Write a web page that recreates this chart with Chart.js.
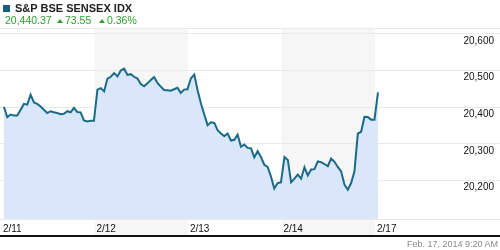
<!DOCTYPE html>
<html>
<head>
<meta charset="utf-8">
<script src="https://cdn.jsdelivr.net/npm/chart.js@4/dist/chart.umd.min.js"></script>
<style>
  html, body { margin: 0; padding: 0; background: #fff; }
  #wrap { position: relative; width: 500px; height: 250px; overflow: hidden; font-family: Arial, 'Liberation Sans', sans-serif; }
  #chart { position: absolute; left: 0; top: 0; }
  .abs { position: absolute; white-space: nowrap; }
  #swatch { left: 3px; top: 5px; width: 7px; height: 7px; background: #1a5e7e; }
  #title { left: 15px; top: 3px; font-size: 11px; line-height: 11px; font-weight: bold; color: #222; }
  .quote { top: 15px; font-size: 10.5px; line-height: 11px; color: #2f9e2f; }
  .tri { top: 19px; width: 0; height: 0; border-left: 3px solid transparent; border-right: 3px solid transparent; border-bottom: 4px solid #2f9e2f; }
  #stamp { right: 2px; top: 240px; font-size: 9px; line-height: 9px; color: #888; }
</style>
</head>
<body>
<div id="wrap">
  <canvas id="chart" width="500" height="250"></canvas>
  <div id="swatch" class="abs"></div>
  <div id="title" class="abs">S&amp;P BSE SENSEX IDX</div>
  <div class="abs quote" style="left:5px">20,440.37</div>
  <div class="abs tri" style="left:57px"></div>
  <div class="abs quote" style="left:65px">73.55</div>
  <div class="abs tri" style="left:99px"></div>
  <div class="abs quote" style="left:107px">0.36%</div>
  <div id="stamp" class="abs">Feb. 17, 2014 9:20 AM</div>
</div>
<script>
// jours de cotation (axe x = index du jour)
const dayLabels = ['2/11', '2/12', '2/13', '2/14', '2/17'];
const shadedDays = [1, 3];

// niveaux intraday, un point toutes les ~14 minutes
const feb11 = [20401, 20373, 20380, 20377, 20377, 20393, 20409, 20407, 20434, 20413,
               20409, 20402, 20393, 20384, 20389, 20386, 20384, 20381, 20382, 20389,
               20386, 20398, 20387, 20386, 20364, 20361, 20363, 20363];
const feb12 = [20448, 20452, 20443, 20478, 20483, 20493, 20484, 20500, 20505, 20488,
               20490, 20483, 20478, 20463, 20457, 20465, 20474, 20482, 20466, 20456,
               20447, 20446, 20445, 20449, 20453, 20439, 20448, 20449];
const feb13 = [20479, 20489, 20446, 20410, 20380, 20351, 20359, 20357, 20337, 20328,
               20321, 20328, 20309, 20311, 20325, 20292, 20298, 20289, 20288, 20263,
               20280, 20264, 20243, 20237, 20211, 20178, 20193, 20195];
const feb14 = [20264, 20256, 20195, 20205, 20216, 20205, 20236, 20214, 20230, 20231,
               20252, 20250, 20245, 20239, 20260, 20251, 20237, 20225, 20189, 20175,
               20193, 20225, 20328, 20333, 20374, 20373, 20366, 20366];
const feb17 = [20440.37];

const yTicks = [20200, 20300, 20400, 20500, 20600];
const yMin = 20095;
const yMax = 20616;

// position des points dans la séance (fraction de jour)
const SESSION_START = 0.032;
const SESSION_STEP = 0.03565;

const days = [feb11, feb12, feb13, feb14, feb17];
const points = days.flatMap((vals, d) =>
    vals.map((v, i) => ({ x: d + SESSION_START + i * SESSION_STEP, y: v })));

const fmt = v => v.toLocaleString('en-US');

// bandes grises des jours alternés + filet noir sous l'axe
const bandsPlugin = {
    id: 'bands',
    beforeDraw(chart) {
        const { ctx, chartArea, scales: { x } } = chart;
        ctx.save();
        ctx.fillStyle = '#f6f6f6';
        shadedDays.forEach(d => {
            const x0 = x.getPixelForValue(d);
            const x1 = x.getPixelForValue(d + 1);
            ctx.fillRect(x0, chartArea.top, x1 - x0, 235 - chartArea.top);
        });
        ctx.restore();
    },
    afterDraw(chart) {
        const ctx = chart.ctx;
        ctx.save();
        ctx.fillStyle = '#111';
        ctx.fillRect(0, 235, chart.width, 2);
        ctx.restore();
    }
};

const tickFont = { family: "'Liberation Sans Narrow', Arial, sans-serif", size: 10 };

new Chart(document.getElementById('chart'), {
    type: 'line',
    data: {
        datasets: [{
            data: points,
            borderColor: '#1b6a87',
            backgroundColor: 'rgb(218, 230, 249)',
            borderWidth: 2,
            pointRadius: 0,
            tension: 0,
            fill: 'start'
        }]
    },
    options: {
        responsive: false,
        animation: false,
        events: [],
        layout: { padding: { top: 28, left: 0, right: 0, bottom: 0 } },
        plugins: { legend: { display: false }, tooltip: { enabled: false } },
        scales: {
            x: {
                type: 'linear',
                min: -0.01,
                max: 5.337,
                afterBuildTicks: s => { s.ticks = dayLabels.map((_, i) => ({ value: i })); },
                afterFit: s => { s.height = 31; },
                grid: { display: false },
                border: { display: false },
                ticks: {
                    callback: v => dayLabels[v] ?? '',
                    align: 'start',
                    labelOffset: 2,
                    padding: -4,
                    maxRotation: 0,
                    autoSkip: false,
                    color: '#111',
                    font: tickFont
                }
            },
            y: {
                position: 'right',
                min: yMin,
                max: yMax,
                afterBuildTicks: s => { s.ticks = [yMin, ...yTicks, yMax].map(v => ({ value: v })); },
                afterFit: s => { s.width = 0; },
                grid: { color: '#e9e9e9', drawTicks: false },
                border: { display: false },
                ticks: {
                    callback: v => yTicks.includes(v) ? fmt(v) : '',
                    mirror: true,
                    padding: -6,
                    labelOffset: 7,
                    color: '#111',
                    font: tickFont
                }
            }
        }
    },
    plugins: [bandsPlugin]
});
</script>
</body>
</html>
